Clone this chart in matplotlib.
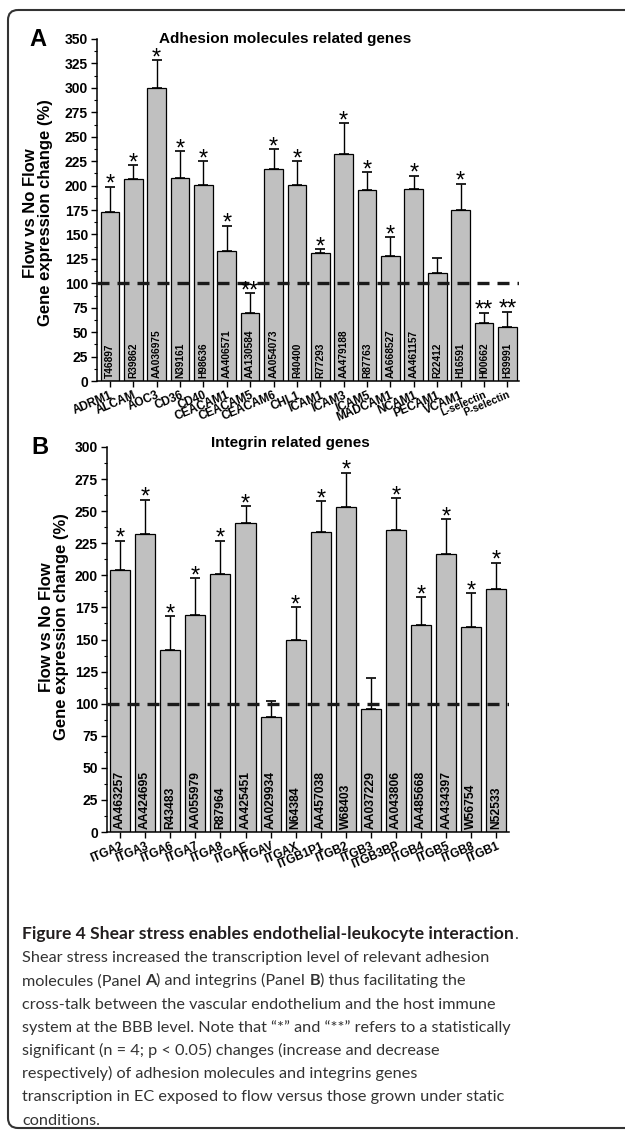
import numpy as np
import matplotlib
matplotlib.use("Agg")
import matplotlib.pyplot as plt
from matplotlib.patches import FancyBboxPatch
from matplotlib.ticker import MultipleLocator

plt.rcParams['font.family'] = ['Liberation Sans', 'DejaVu Sans']

# panel A - adhesion molecules
genes_a = ['ADRM1', 'ALCAM', 'AOC3', 'CD36', 'CD40', 'CEACAM1', 'CEACAM5', 'CEACAM6',
           'CHL1', 'ICAM1', 'ICAM3', 'ICAM5', 'MADCAM1', 'NCAM1', 'PECAM1', 'VCAM1',
           'L-selectin', 'P-selectin']
acc_a = ['T46897', 'R39862', 'AA036975', 'N39161', 'H98636', 'AA406571', 'AA130584',
         'AA054073', 'R40400', 'R77293', 'AA479188', 'R87763', 'AA668527', 'AA461157',
         'R22412', 'H16591', 'H00662', 'H39991']
vals_a = [173, 207, 300, 208, 201, 133, 70, 217, 201, 131, 232, 195, 128, 196, 111, 175, 59, 55]
err_a = [26, 14, 28, 27, 24, 26, 20, 20, 24, 4, 32, 19, 19, 14, 15, 27, 11, 16]
sig_a = ['*', '*', '*', '*', '*', '*', '**', '*', '*', '*', '*', '*', '*', '*', '', '*', '**', '**']

# panel B - integrins
genes_b = ['ITGA2', 'ITGA3', 'ITGA6', 'ITGA7', 'ITGA8', 'ITGAE', 'ITGAV', 'ITGAX',
           'ITGB1P1', 'ITGB2', 'ITGB3', 'ITGB3BP', 'ITGB4', 'ITGB5', 'ITGB8', 'ITGB1']
acc_b = ['AA463257', 'AA424695', 'R43483', 'AA055979', 'R87964', 'AA425451', 'AA029934',
         'N64384', 'AA457038', 'W68403', 'AA037229', 'AA043806', 'AA485668', 'AA434397',
         'W56754', 'N52533']
vals_b = [204, 232, 142, 169, 201, 241, 90, 150, 234, 253, 96, 235, 161, 217, 160, 189]
err_b = [23, 27, 26, 29, 26, 13, 12, 25, 24, 27, 24, 25, 22, 27, 26, 21]
sig_b = ['*', '*', '*', '*', '*', '*', '', '*', '*', '*', '', '*', '*', '*', '*', '*']

W, H = 625, 1130
fig = plt.figure(figsize=(W / 100, H / 100), dpi=100)

# background axes in pixel units for frame and free text
bg = fig.add_axes([0, 0, 1, 1], zorder=-1)
bg.set_xlim(0, W)
bg.set_ylim(H, 0)
bg.axis('off')
bg.add_patch(FancyBboxPatch((8, 10), 700, 1118, boxstyle='round,pad=0,rounding_size=10',
                            fc='none', ec='#333333', lw=1.5))


def px_axes(l, t, r, b):
    return fig.add_axes([l / W, 1 - b / H, (r - l) / W, (b - t) / H])


def panel(ax, genes, acc, vals, err, sig, ymax, xlim, acc_fs, tick_fs):
    x = np.arange(len(genes))
    ax.bar(x, vals, width=0.8, color='#c0c0c0', edgecolor='black', linewidth=0.9, zorder=2)
    ax.errorbar(x, vals, yerr=[np.zeros(len(vals)), err], fmt='none', ecolor='black',
                elinewidth=1.0, capsize=3.8, capthick=1.2, zorder=3)
    ax.axhline(100, color='#1a1a1a', lw=2.4, ls=(0, (3.6, 2.4)), zorder=4)
    for xi, v, e, s in zip(x, vals, err, sig):
        if s:
            ax.annotate(s, (xi, v + e), xytext=(0, -3), textcoords='offset points',
                        ha='center', va='baseline', fontsize=17, zorder=5)
    for xi, a in zip(x, acc):
        ax.annotate(a, (xi, 0), xytext=(0, 2), textcoords='offset points', rotation=90,
                    ha='center', va='bottom', fontsize=acc_fs, fontweight='bold', zorder=5)
    ax.set_xlim(*xlim)
    ax.set_ylim(0, ymax)
    ax.yaxis.set_major_locator(MultipleLocator(25))
    ax.yaxis.set_minor_locator(MultipleLocator(12.5))
    ax.set_xticks(x)
    ax.set_xticklabels(genes, rotation=23, ha='right', va='top', rotation_mode='anchor',
                       fontsize=tick_fs, fontweight='bold')
    for lab in ax.get_yticklabels():
        lab.set_fontweight('bold')
        lab.set_fontsize(10)
    ax.tick_params(axis='y', which='major', length=4.5, width=1, pad=2, direction='out')
    ax.tick_params(axis='y', which='minor', length=2.5, width=0.8, direction='out')
    ax.tick_params(axis='x', length=4, width=1, pad=2, direction='out')
    for sp in ['top', 'right']:
        ax.spines[sp].set_visible(False)
    for sp in ['left', 'bottom']:
        ax.spines[sp].set_linewidth(1.1)
    ax.set_facecolor('none')


axA = px_axes(97, 39, 519, 381)
panel(axA, genes_a, acc_a, vals_a, err_a, sig_a, 350, (-0.55, 17.5), 7.3, 8.5)
for lab in axA.get_xticklabels()[-2:]:
    lab.set_fontsize(7.5)

axB = px_axes(107, 447, 509, 832)
panel(axB, genes_b, acc_b, vals_b, err_b, sig_b, 300, (-0.52, 15.5), 8.7, 8.5)

ylab = 'Flow vs No Flow\nGene expression change (%)'
bg.text(38, 213, ylab, rotation=90, ha='center', va='center', multialignment='center',
        fontsize=12, fontweight='bold', linespacing=1.0)
bg.text(54, 627, ylab, rotation=90, ha='center', va='center', multialignment='center',
        fontsize=12, fontweight='bold', linespacing=1.0)

bg.text(38, 40, 'A', ha='center', va='center', fontsize=17, fontweight='bold')
bg.text(40, 448, 'B', ha='center', va='center', fontsize=17, fontweight='bold')
bg.text(285, 39, 'Adhesion molecules related genes', ha='center', va='center',
        fontsize=11, fontweight='bold')
bg.text(290, 443, 'Integrin related genes', ha='center', va='center',
        fontsize=11, fontweight='bold')

# caption with mixed weights
cap_lines = [
    [('Figure 4 Shear stress enables endothelial-leukocyte interaction', 'bold'), ('.', 'normal')],
    [('Shear stress increased the transcription level of relevant adhesion', 'normal')],
    [('molecules (Panel ', 'normal'), ('A', 'bold'), (') and integrins (Panel ', 'normal'),
     ('B', 'bold'), (') thus facilitating the', 'normal')],
    [('cross-talk between the vascular endothelium and the host immune', 'normal')],
    [('system at the BBB level. Note that \u201c*\u201d and \u201c**\u201d refers to a statistically', 'normal')],
    [('significant (n = 4; p < 0.05) changes (increase and decrease', 'normal')],
    [('respectively) of adhesion molecules and integrins genes', 'normal')],
    [('transcription in EC exposed to flow versus those grown under static', 'normal')],
    [('conditions.', 'normal')],
]
cap_font = ['Lato', 'DejaVu Sans']
renderer = fig.canvas.get_renderer()


def fit_size(txt, wt, target):
    t = bg.text(0, 0, txt, fontsize=10, fontweight=wt, family=cap_font)
    w = t.get_window_extent(renderer).width
    t.remove()
    return 10 * target / w


size_n = fit_size(cap_lines[1][0][0], 'normal', 470)
size_b = fit_size(cap_lines[0][0][0], 'bold', 490)
for i, segs in enumerate(cap_lines):
    xpos = 22
    ybase = 939 + 23.2 * i
    for txt, wt in segs:
        col = '#231f20' if (i == 0 and wt == 'bold') else '#333333'
        fs = size_b if (i == 0 and wt == 'bold') else size_n
        t = bg.text(xpos, ybase, txt, ha='left', va='baseline', fontsize=fs,
                    fontweight=wt, color=col, family=cap_font)
        xpos += t.get_window_extent(renderer).width

fig.savefig('out.png', dpi=100)
